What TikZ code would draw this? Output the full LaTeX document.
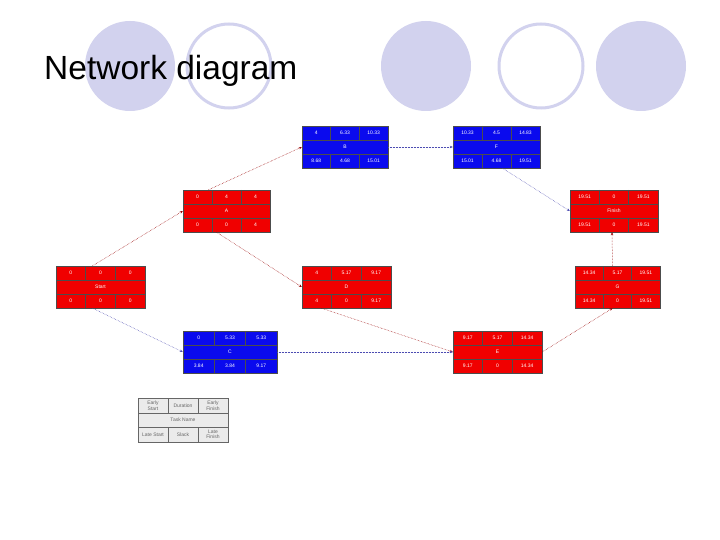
\documentclass[tikz,border=0pt]{standalone}
\usepackage{fontspec}
\setmainfont{Liberation Sans}
\usetikzlibrary{arrows.meta}
\definecolor{lav}{HTML}{D2D2EE}
\definecolor{bblue}{HTML}{0A0AEE}
\definecolor{rred}{HTML}{F00000}
\tikzset{
  circ/.style={fill=lav,draw=none},
  circo/.style={draw=lav,line width=3pt,fill=white},
  cell/.style={font=\fontsize{5}{6}\selectfont,text=white},
  redc/.style={draw=red!60!black,densely dotted,line width=0.5pt,-{Stealth[length=3pt,width=2.5pt]}},
  bluec/.style={draw=blue!40!gray,densely dotted,line width=0.5pt,-{Stealth[length=3pt,width=2.5pt]}},
}
% \tbox{id}{x}{y}{w}{fill}{name}{a}{b}{c}  (top row)
\newcommand\tbox[9]{%
  \fill[#5] (#2,#3) rectangle ++(#4,42);
  \draw[black!70,line width=0.4pt] (#2,#3) rectangle ++(#4,42)
    (#2,#3+14) -- ++(#4,0) (#2,#3+28) -- ++(#4,0)
    (#2+#4/3,#3) -- ++(0,14) (#2+2*#4/3,#3) -- ++(0,14)
    (#2+#4/3,#3+28) -- ++(0,14) (#2+2*#4/3,#3+28) -- ++(0,14);
  \node[inner sep=0,minimum width=#4,minimum height=42] (#1) at (#2+#4/2,#3+21) {};
  \node[cell] at (#2+#4/2,#3+21) {#6};
  \node[cell] at (#2+#4/6,#3+7) {#7};
  \node[cell] at (#2+#4/2,#3+7) {#8};
  \node[cell] at (#2+5*#4/6,#3+7) {#9};
}
\newcommand\brow[6]{% x y w a b c
  \node[cell] at (#1+#3/6,#2+35) {#4};
  \node[cell] at (#1+#3/2,#2+35) {#5};
  \node[cell] at (#1+5*#3/6,#2+35) {#6};
}
\begin{document}
\begin{tikzpicture}[x=1pt,y=-1pt]
\useasboundingbox (0,0) rectangle (720,540);
\fill[white] (0,0) rectangle (720,540);
% background circles
\fill[circ] (130,66) circle (45);
\draw[circo] (229,66) circle (42);
\fill[circ] (426,66) circle (45);
\draw[circo] (541,66) circle (42);
\fill[circ] (641,66) circle (45);
\node[anchor=west,inner sep=0,font=\fontsize{33.5}{38}\selectfont] (title) at (44,71) {Network diagram};
% boxes
\tbox{B}{302}{126}{86}{bblue}{B}{4}{6.33}{10.33}\brow{302}{126}{86}{8.68}{4.68}{15.01}
\tbox{F}{453}{126}{87}{bblue}{F}{10.33}{4.5}{14.83}\brow{453}{126}{87}{15.01}{4.68}{19.51}
\tbox{A}{183}{190}{87}{rred}{A}{0}{4}{4}\brow{183}{190}{87}{0}{0}{4}
\tbox{Fin}{570}{190}{88}{rred}{Finish}{19.51}{0}{19.51}\brow{570}{190}{88}{19.51}{0}{19.51}
\tbox{S}{56}{266}{89}{rred}{Start}{0}{0}{0}\brow{56}{266}{89}{0}{0}{0}
\tbox{D}{302}{266}{89}{rred}{D}{4}{5.17}{9.17}\brow{302}{266}{89}{4}{0}{9.17}
\tbox{G}{575}{266}{85}{rred}{G}{14.34}{5.17}{19.51}\brow{575}{266}{85}{14.34}{0}{19.51}
\tbox{C}{183}{331}{94}{bblue}{C}{0}{5.33}{5.33}\brow{183}{331}{94}{3.84}{3.84}{9.17}
\tbox{E}{453}{331}{89}{rred}{E}{9.17}{5.17}{14.34}\brow{453}{331}{89}{9.17}{0}{14.34}
% legend
\fill[black!8] (138,398) rectangle (228,442);
\draw[black!60,line width=0.4pt] (138,398) rectangle (228,442)
  (138,413) -- (228,413) (138,427) -- (228,427)
  (168,398) -- (168,413) (198,398) -- (198,413)
  (168,427) -- (168,442) (198,427) -- (198,442);
\node[inner sep=0,minimum width=90,minimum height=44] (L) at (183,420) {};
\begin{scope}[every node/.style={font=\fontsize{5}{5.5}\selectfont,text=black!60,align=center}]
\node at (153,405.5) {Early\\Start};
\node at (183,405.5) {Duration};
\node at (213,405.5) {Early\\Finish};
\node at (183,420) {Task Name};
\node at (153,434.5) {Late Start};
\node at (183,434.5) {Slack};
\node at (213,434.5) {Late\\Finish};
\end{scope}
% connectors
\draw[redc] ([xshift=-8]S.north) -- (A.west);
\draw[bluec] ([xshift=-8]S.south) -- (C.west);
\draw[redc] ([xshift=-18]A.north) -- (B.west);
\draw[redc] ([xshift=-10]A.south) -- (D.west);
\draw[bluec] (B.east) -- (F.west);
\draw[bluec] ([xshift=6]F.south) -- (Fin.west);
\draw[redc] ([xshift=-25]D.south) -- (E.west);
\draw[bluec] (C.east) -- (E.west);
\draw[redc] (E.east) -- ([xshift=-5]G.south);
\draw[redc] ([xshift=-5]G.north) -- ([xshift=-2]Fin.south);
\end{tikzpicture}
\end{document}
